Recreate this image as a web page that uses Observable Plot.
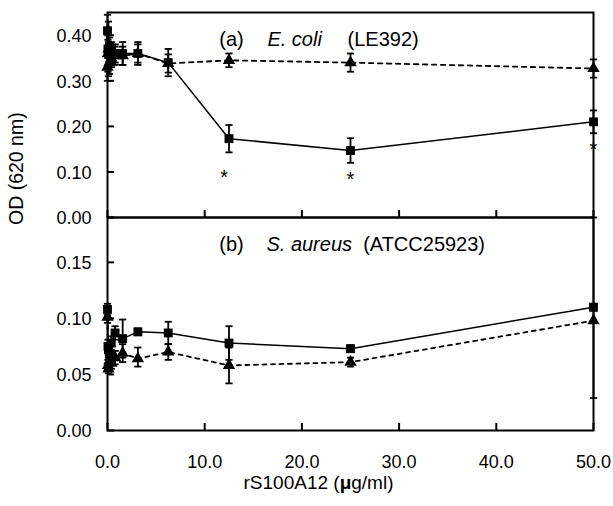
<!DOCTYPE html>
<html><head><meta charset="utf-8">
<script src="https://cdn.jsdelivr.net/npm/d3@7"></script>
<script src="https://cdn.jsdelivr.net/npm/@observablehq/plot@0.6"></script>
<style>
body{margin:0;background:#fff}
#chart{position:relative;width:613px;height:506px;background:#fff}
#chart svg{position:absolute;left:0;top:0;background:transparent !important}
</style></head><body><div id="chart"></div>
<script>
// concentrations of rS100A12 (µg/ml)
const conc = [0, 0.049, 0.098, 0.195, 0.39, 0.78, 1.56, 3.125, 6.25, 12.5, 25, 50];

// (a) E. coli (LE392)
const ecoliSq     = [0.410, 0.370, 0.360, 0.375, 0.365, 0.360, 0.360, 0.360, 0.340, 0.173, 0.147, 0.210];
const ecoliSqErr  = [0.035, 0.020, 0.025, 0.020, 0.020, 0.020, 0.025, 0.025, 0.030, 0.030, 0.027, 0.025];
const ecoliTri    = [0.330, 0.360, 0.370, 0.340, 0.350, 0.355, 0.355, 0.360, 0.338, 0.345, 0.340, 0.327];
const ecoliTriErr = [0.030, 0.040, 0.060, 0.025, 0.020, 0.020, 0.020, 0.020, 0.020, 0.015, 0.020, 0.020];
const starConc = [12, 25, 50];
const starOD   = [0.088, 0.083, 0.149];

// (b) S. aureus (ATCC25923)
const saurSq       = [0.108, 0.075, 0.072, 0.068, 0.078, 0.087, 0.082, 0.088, 0.087, 0.078, 0.073, 0.110];
const saurSqErr    = [0.005, 0.006, 0.005, 0.005, 0.006, 0.006, 0.017, 0.003, 0.010, 0.015, 0.003, 0.003];
const saurTri      = [0.101, 0.058, 0.055, 0.062, 0.060, 0.065, 0.069, 0.064, 0.070, 0.058, 0.061, 0.098];
const saurTriErrLo = [0.005, 0.005, 0.004, 0.006, 0.005, 0.006, 0.008, 0.007, 0.007, 0.016, 0.004, 0.069];
const saurTriErrHi = [0.005, 0.005, 0.004, 0.006, 0.005, 0.006, 0.008, 0.010, 0.007, 0.016, 0.004, 0.092];

// ticks and texts
const xTicks = [0, 10, 20, 30, 40, 50];
const topYTicks = [0, 0.1, 0.2, 0.3, 0.4];
const bottomYTicks = [0, 0.05, 0.10, 0.15];
const topLabel = ["(a)", "E. coli", "(LE392)"];
const bottomLabel = ["(b)", "S. aureus", "(ATCC25923)"];
const yTitle = "OD (620 nm)";
const xTitle = "rS100A12 (μg/ml)";

const W = 613, H = 506, ML = 107, MR = 20;
const FONT = "'Liberation Sans', Arial, Helvetica, sans-serif";
const FS = 18;

const rows = (vals, lo, hi) => conc.map((x, i) => ({x, y: vals[i], lo: vals[i] - lo[i], hi: vals[i] + hi[i]}));
const topSq = rows(ecoliSq, ecoliSqErr, ecoliSqErr);
const topTri = rows(ecoliTri, ecoliTriErr, ecoliTriErr);
const botSq = rows(saurSq, saurSqErr, saurSqErr);
const botTri = rows(saurTri, saurTriErrLo, saurTriErrHi);
const stars = starConc.map((x, i) => ({x, y: starOD[i]}));

const capSymbol = {draw(ctx, size) { const r = Math.sqrt(size / Math.PI); ctx.moveTo(-r, 0); ctx.lineTo(r, 0); }};

function seriesMarks(sq, tri, dash) {
  return [
    Plot.line(tri, {x: "x", y: "y", stroke: "black", strokeWidth: 1.8, strokeDasharray: dash}),
    Plot.line(sq, {x: "x", y: "y", stroke: "black", strokeWidth: 1.5}),
    Plot.ruleX(tri, {x: "x", y1: "lo", y2: "hi", stroke: "black", strokeWidth: 1.8}),
    Plot.dot(tri, {x: "x", y: "lo", symbol: capSymbol, r: 3.6, stroke: "black", strokeWidth: 1.8, fill: "none"}),
    Plot.dot(tri, {x: "x", y: "hi", symbol: capSymbol, r: 3.6, stroke: "black", strokeWidth: 1.8, fill: "none"}),
    Plot.ruleX(sq, {x: "x", y1: "lo", y2: "hi", stroke: "black", strokeWidth: 1.8}),
    Plot.dot(sq, {x: "x", y: "lo", symbol: capSymbol, r: 3.6, stroke: "black", strokeWidth: 1.8, fill: "none"}),
    Plot.dot(sq, {x: "x", y: "hi", symbol: capSymbol, r: 3.6, stroke: "black", strokeWidth: 1.8, fill: "none"}),
    Plot.dot(tri, {x: "x", y: "y", symbol: "triangle", r: 4.6, fill: "black", stroke: "none"}),
    Plot.dot(sq, {x: "x", y: "y", symbol: "square", r: 5, fill: "black", stroke: "none"})
  ];
}

function frameMarks(yTicks, frameH, fmtY) {
  return [
    Plot.ruleY(yTicks, {y: d => d, insetRight: (W - ML - MR) - 7, stroke: "black", strokeWidth: 2}),
    Plot.ruleX(xTicks, {x: d => d, insetTop: frameH - 7, stroke: "black", strokeWidth: 2}),
    Plot.axisY(yTicks, {tickSize: 0, tickPadding: 16, tickFormat: d3.format(fmtY), label: null, fontSize: FS, dy: 1}),
    Plot.frame({stroke: "black", strokeWidth: 2})
  ];
}

function labelMarks(parts, xs, y) {
  return parts.map((t, i) => Plot.text([t], {x: xs[i], y, text: d => d, textAnchor: "start", fontSize: 20, fontStyle: i === 1 ? "italic" : "normal", fill: "black"}));
}

const topPlot = Plot.plot({
  width: W, height: 240, marginTop: 12, marginBottom: 23, marginLeft: ML, marginRight: MR,
  style: {fontFamily: FONT, fontSize: FS + "px", background: "transparent", color: "black"},
  x: {domain: [0, 50], axis: null},
  y: {domain: [0, 0.45], axis: null},
  marks: [
    ...frameMarks(topYTicks, 205, ".2f"),
    ...seriesMarks(topSq, topTri, "4.5,4.5"),
    Plot.text(stars, {x: "x", y: "y", text: () => "*", fontSize: 20, fill: "black"}),
    ...labelMarks(topLabel, [11.5, 16.45, 24.7], 0.39)
  ]
});

const bottomPlot = Plot.plot({
  width: W, height: H, marginTop: 217, marginBottom: 76, marginLeft: ML, marginRight: MR,
  style: {fontFamily: FONT, fontSize: FS + "px", background: "transparent", color: "black"},
  x: {domain: [0, 50], axis: null},
  y: {domain: [0, 0.19], axis: null},
  marks: [
    ...frameMarks(bottomYTicks, 213, ".2f"),
    Plot.axisX(xTicks, {tickSize: 0, tickPadding: 25, tickFormat: d3.format(".1f"), label: null, fontSize: FS}),
    ...seriesMarks(botSq, botTri, "4,4.5"),
    ...labelMarks(bottomLabel, [11.5, 16.35, 26.3], 0.166),
    Plot.text([yTitle], {frameAnchor: "left", dx: -91, dy: -99, rotate: -90, text: d => d, fontSize: 19.5, fill: "black"}),
    Plot.text([xTitle], {frameAnchor: "bottom", dx: -32, dy: 58, text: d => d, fontSize: 19, fill: "black"})
  ]
});

const chart = document.getElementById("chart");
chart.appendChild(bottomPlot);
chart.appendChild(topPlot);

d3.select(bottomPlot).selectAll("text").filter(function() { return this.textContent === xTitle; }).each(function() {
  const t = d3.select(this);
  const parts = xTitle.split("μ");
  t.text(null);
  t.append("tspan").text(parts[0]);
  t.append("tspan").attr("font-weight", "bold").text("μ");
  t.append("tspan").text(parts[1]);
});
</script></body></html>
